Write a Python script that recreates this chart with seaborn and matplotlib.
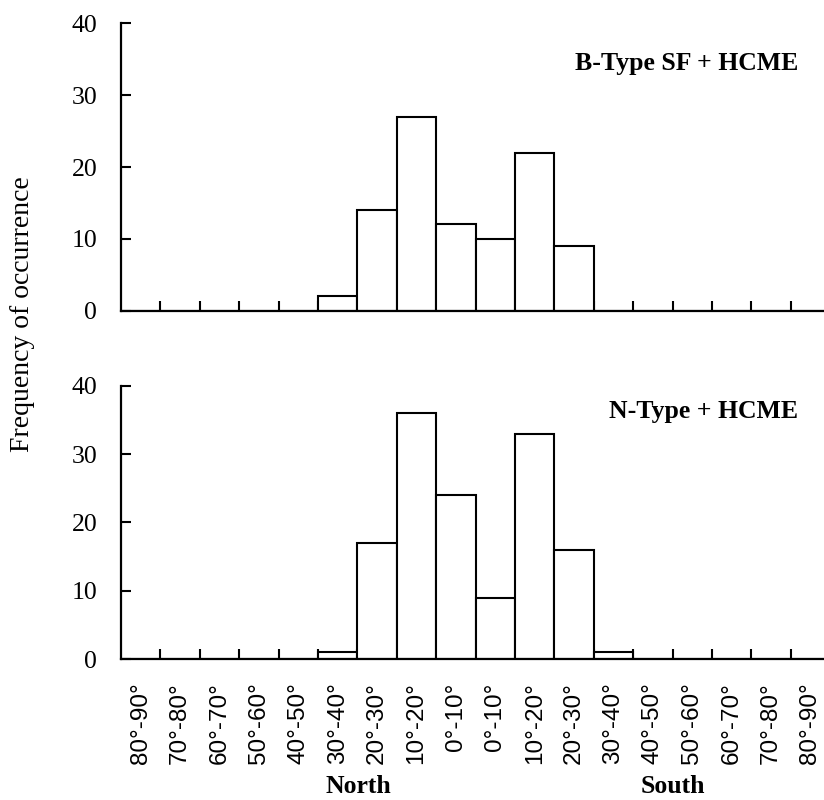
import matplotlib
matplotlib.use("Agg")
import matplotlib.pyplot as plt
import seaborn as sns
import pandas as pd
from matplotlib.ticker import FixedLocator

# ---- data ----
bin_keys = ["N80-90", "N70-80", "N60-70", "N50-60", "N40-50", "N30-40", "N20-30", "N10-20", "N0-10",
            "S0-10", "S10-20", "S20-30", "S30-40", "S40-50", "S50-60", "S60-70", "S70-80", "S80-90"]
tick_labels = ["80°-90°", "70°-80°", "60°-70°", "50°-60°", "40°-50°", "30°-40°", "20°-30°", "10°-20°", "0°-10°",
               "0°-10°", "10°-20°", "20°-30°", "30°-40°", "40°-50°", "50°-60°", "60°-70°", "70°-80°", "80°-90°"]
btype_counts = [0, 0, 0, 0, 0, 2, 14, 27, 12, 10, 22, 9, 0, 0, 0, 0, 0, 0]
ntype_counts = [0, 0, 0, 0, 0, 1, 17, 36, 24, 9, 33, 16, 1, 0, 0, 0, 0, 0]
panel_titles = ["B-Type SF + HCME", "N-Type + HCME"]
y_ticks = [0, 10, 20, 30, 40]

sns.set_theme(style="white")
plt.rcParams["font.family"] = ["Liberation Serif", "DejaVu Serif"]
plt.rcParams["text.color"] = "black"
plt.rcParams["xtick.color"] = "black"
plt.rcParams["ytick.color"] = "black"
plt.rcParams["axes.labelcolor"] = "black"

fig = plt.figure(figsize=(8.24, 8.0), dpi=100)
ax1 = fig.add_axes([0.1468, 0.6116, 0.8607, 0.3593])
ax2 = fig.add_axes([0.1468, 0.17625, 0.8607, 0.3416])

title_pos = [(0.955, 0.86), (0.955, 0.905)]
for ax, counts, title, tp in [(ax1, btype_counts, panel_titles[0], title_pos[0]),
                              (ax2, ntype_counts, panel_titles[1], title_pos[1])]:
    df = pd.DataFrame({"bin": bin_keys, "count": counts})
    sns.barplot(data=df, x="bin", y="count", order=bin_keys, ax=ax, width=1.0,
                color="white", edgecolor="black", linewidth=1.5, saturation=1)
    ax.set_xlim(-0.5, len(bin_keys) - 0.5)
    ax.set_ylim(0, 40)
    ax.set_yticks(y_ticks)
    ax.set_yticklabels([str(v) for v in y_ticks], fontsize=18.5)
    ax.set_xlabel("")
    ax.set_ylabel("")
    for s in ["top", "right"]:
        ax.spines[s].set_visible(False)
    for s in ["left", "bottom"]:
        ax.spines[s].set_linewidth(1.6)
        ax.spines[s].set_color("black")
    ax.tick_params(axis="y", direction="in", length=7, width=1.5, left=True, pad=17, colors="black")
    # label ticks at bin centres (no mark), marks at bin edges
    ax.set_xticks(range(len(bin_keys)))
    ax.tick_params(axis="x", which="major", length=0, bottom=True, colors="black")
    ax.xaxis.set_minor_locator(FixedLocator([i + 0.5 for i in range(len(bin_keys) - 1)]))
    ax.tick_params(axis="x", which="minor", direction="in", length=7, width=1.5, bottom=True, colors="black")
    ax.text(tp[0], tp[1], title, transform=ax.transAxes, ha="right", va="center",
            fontsize=18.5, fontweight="bold", color="black")

ax1.set_xticklabels([])
ax2.set_xticklabels(tick_labels, rotation=90, fontsize=17.5, family=["Liberation Sans", "DejaVu Sans"])
ax2.tick_params(axis="x", which="major", pad=17)

fig.text(0.027, 0.607, "Frequency of occurrence", rotation=90, ha="center", va="center", fontsize=20)
fig.text(0.4345, 0.009, "North", ha="center", va="baseline", fontsize=18.5, fontweight="bold")
fig.text(0.817, 0.009, "South", ha="center", va="baseline", fontsize=18.5, fontweight="bold")

fig.savefig("out.png", dpi=100, facecolor="white")
